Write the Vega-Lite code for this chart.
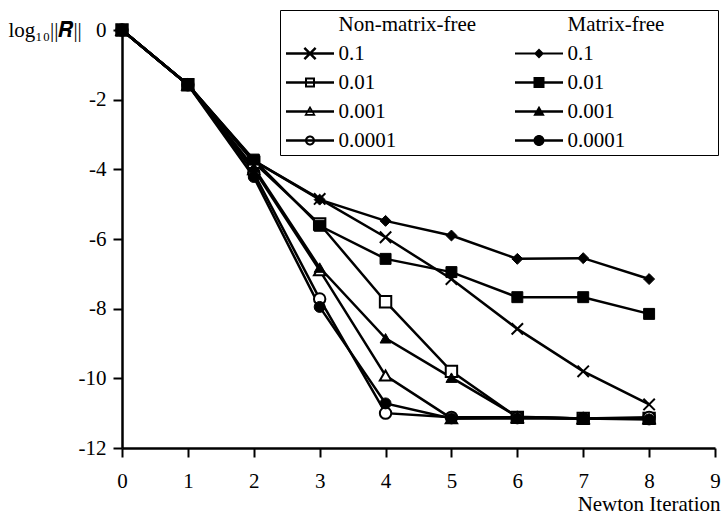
{
  "$schema": "https://vega.github.io/schema/vega-lite/v6.json",
  "width": 593,
  "height": 418,
  "autosize": {"type": "none"},
  "padding": {"left": 122, "top": 30, "right": 8, "bottom": 67},
  "background": "white",
  "config": {
    "font": "Liberation Serif",
    "view": {"stroke": null},
    "axis": {
      "domainColor": "black", "domainWidth": 2.5, "tickColor": "black", "tickWidth": 2,
      "labelColor": "black", "labelFontSize": 21, "labelFont": "Liberation Serif",
      "titleColor": "black", "titleFontSize": 21, "titleFont": "Liberation Serif", "titleFontWeight": "normal",
      "grid": false
    }
  },
  "resolve": {"scale": {"shape": "independent"}},
  "data": {"values": [
    {"key": "N|0.1", "it": 0, "v": 0}, {"key": "N|0.1", "it": 1, "v": -1.57}, {"key": "N|0.1", "it": 2, "v": -3.75}, {"key": "N|0.1", "it": 3, "v": -4.85}, {"key": "N|0.1", "it": 4, "v": -5.95}, {"key": "N|0.1", "it": 5, "v": -7.15}, {"key": "N|0.1", "it": 6, "v": -8.58}, {"key": "N|0.1", "it": 7, "v": -9.8}, {"key": "N|0.1", "it": 8, "v": -10.75},
    {"key": "N|0.01", "it": 0, "v": 0}, {"key": "N|0.01", "it": 1, "v": -1.57}, {"key": "N|0.01", "it": 2, "v": -3.8}, {"key": "N|0.01", "it": 3, "v": -5.57}, {"key": "N|0.01", "it": 4, "v": -7.8}, {"key": "N|0.01", "it": 5, "v": -9.8}, {"key": "N|0.01", "it": 6, "v": -11.12}, {"key": "N|0.01", "it": 7, "v": -11.15}, {"key": "N|0.01", "it": 8, "v": -11.15},
    {"key": "N|0.001", "it": 0, "v": 0}, {"key": "N|0.001", "it": 1, "v": -1.57}, {"key": "N|0.001", "it": 2, "v": -4.0}, {"key": "N|0.001", "it": 3, "v": -6.9}, {"key": "N|0.001", "it": 4, "v": -9.92}, {"key": "N|0.001", "it": 5, "v": -11.15}, {"key": "N|0.001", "it": 6, "v": -11.12}, {"key": "N|0.001", "it": 7, "v": -11.15}, {"key": "N|0.001", "it": 8, "v": -11.15},
    {"key": "N|0.0001", "it": 0, "v": 0}, {"key": "N|0.0001", "it": 1, "v": -1.57}, {"key": "N|0.0001", "it": 2, "v": -4.1}, {"key": "N|0.0001", "it": 3, "v": -7.72}, {"key": "N|0.0001", "it": 4, "v": -11.0}, {"key": "N|0.0001", "it": 5, "v": -11.12}, {"key": "N|0.0001", "it": 6, "v": -11.12}, {"key": "N|0.0001", "it": 7, "v": -11.15}, {"key": "N|0.0001", "it": 8, "v": -11.12},
    {"key": "M|0.1", "it": 0, "v": 0}, {"key": "M|0.1", "it": 1, "v": -1.57}, {"key": "M|0.1", "it": 2, "v": -3.75}, {"key": "M|0.1", "it": 3, "v": -4.87}, {"key": "M|0.1", "it": 4, "v": -5.48}, {"key": "M|0.1", "it": 5, "v": -5.9}, {"key": "M|0.1", "it": 6, "v": -6.57}, {"key": "M|0.1", "it": 7, "v": -6.55}, {"key": "M|0.1", "it": 8, "v": -7.15},
    {"key": "M|0.01", "it": 0, "v": 0}, {"key": "M|0.01", "it": 1, "v": -1.57}, {"key": "M|0.01", "it": 2, "v": -3.72}, {"key": "M|0.01", "it": 3, "v": -5.62}, {"key": "M|0.01", "it": 4, "v": -6.57}, {"key": "M|0.01", "it": 5, "v": -6.95}, {"key": "M|0.01", "it": 6, "v": -7.67}, {"key": "M|0.01", "it": 7, "v": -7.67}, {"key": "M|0.01", "it": 8, "v": -8.15},
    {"key": "M|0.001", "it": 0, "v": 0}, {"key": "M|0.001", "it": 1, "v": -1.57}, {"key": "M|0.001", "it": 2, "v": -3.95}, {"key": "M|0.001", "it": 3, "v": -6.82}, {"key": "M|0.001", "it": 4, "v": -8.85}, {"key": "M|0.001", "it": 5, "v": -9.98}, {"key": "M|0.001", "it": 6, "v": -11.1}, {"key": "M|0.001", "it": 7, "v": -11.15}, {"key": "M|0.001", "it": 8, "v": -11.15},
    {"key": "M|0.0001", "it": 0, "v": 0}, {"key": "M|0.0001", "it": 1, "v": -1.57}, {"key": "M|0.0001", "it": 2, "v": -4.22}, {"key": "M|0.0001", "it": 3, "v": -7.95}, {"key": "M|0.0001", "it": 4, "v": -10.72}, {"key": "M|0.0001", "it": 5, "v": -11.15}, {"key": "M|0.0001", "it": 6, "v": -11.15}, {"key": "M|0.0001", "it": 7, "v": -11.15}, {"key": "M|0.0001", "it": 8, "v": -11.18}
  ]},
  "encoding": {
    "x": {
      "field": "it", "type": "quantitative",
      "scale": {"domain": [0, 9], "nice": false, "zero": false},
      "axis": {
        "values": [0, 1, 2, 3, 4, 5, 6, 7, 8, 9], "labelFlush": false, "labelPadding": 13, "tickSize": 9,
        "labelFont": "Liberation Serif", "labelFontSize": 21, "titleFont": "Liberation Serif",
        "title": "Newton Iteration", "titleAnchor": null, "titleAlign": "right", "titleX": 598, "titleY": 62, "titleBaseline": "alphabetic"
      }
    },
    "y": {
      "field": "v", "type": "quantitative",
      "scale": {"domain": [-12, 0], "nice": false, "zero": false},
      "axis": {
        "values": [0, -2, -4, -6, -8, -10, -12], "labelPadding": 7, "tickSize": 9,
        "labelFont": "Liberation Serif", "labelFontSize": 21, "titleFont": "Liberation Serif, DejaVu Serif",
        "labelExpr": "'' + datum.value",
        "title": "log₁₀||𝑹||", "titleAngle": 0, "titleAlign": "left", "titleAnchor": null, "titleX": -114, "titleY": 0, "titleBaseline": "middle"
      }
    }
  },
  "layer": [
    {
      "mark": {"type": "line", "stroke": "black", "strokeWidth": 2.5},
      "encoding": {"detail": {"field": "key", "type": "nominal"}}
    },
    {
      "transform": [{"filter": "substring(datum.key,0,1)=='N'"}],
      "mark": {"type": "point", "filled": true, "fill": "white", "stroke": "black", "strokeWidth": 2, "opacity": 1, "size": 130},
      "encoding": {
        "shape": {
          "field": "key", "type": "nominal", "legend": null,
          "scale": {
            "domain": ["N|0.1", "N|0.01", "N|0.001", "N|0.0001"],
            "range": ["M-1,-1L1,1M-1,1L1,-1", "square", "triangle-up", "circle"]
          }
        }
      }
    },
    {
      "transform": [{"filter": "substring(datum.key,0,1)=='M'"}],
      "mark": {"type": "point", "filled": true, "fill": "black", "stroke": "black", "strokeWidth": 1, "opacity": 1, "size": 120},
      "encoding": {
        "shape": {
          "field": "key", "type": "nominal", "legend": null,
          "scale": {
            "domain": ["M|0.1", "M|0.01", "M|0.001", "M|0.0001"],
            "range": ["diamond", "square", "triangle-up", "circle"]
          }
        }
      }
    },
    {
      "transform": [{"filter": "false"}],
      "mark": {"type": "point", "filled": true, "fill": "black", "strokeWidth": 0, "opacity": 1, "size": 100},
      "encoding": {
        "shape": {
          "field": "key", "type": "nominal",
          "scale": {
            "domain": ["H|Non-matrix-free", "N|0.1", "N|0.01", "N|0.001", "N|0.0001", "H|Matrix-free", "M|0.1", "M|0.01", "M|0.001", "M|0.0001"],
            "range": [
              "M0,0",
              "M-4.8,-0.25H4.8V0.25H-4.8Z M-1.3,-0.95L-0.95,-1.3L1.3,0.95L0.95,1.3Z M-1.3,0.95L0.95,-1.3L1.3,-0.95L-0.95,1.3Z",
              "M-4.8,-0.25H4.8V0.25H-4.8Z M-1,-1H1V1H-1Z M-0.6,-0.6V0.6H0.6V-0.6Z",
              "M-4.8,-0.25H4.8V0.25H-4.8Z M0,-1.15L1.15,0.85H-1.15Z M0,-0.45L-0.6,0.5H0.6Z",
              "M-4.8,-0.25H4.8V0.25H-4.8Z M1,0A1,1,0,1,1,-1,0A1,1,0,1,1,1,0Z M0.6,0A0.6,0.6,0,1,0,-0.6,0A0.6,0.6,0,1,0,0.6,0Z",
              "M0,0M35,0",
              "M-4.8,-0.18H4.8V0.18H-4.8Z M0,-1L1,0L0,1L-1,0Z",
              "M-4.8,-0.25H4.8V0.25H-4.8Z M-1.1,-1.1H1.1V1.1H-1.1Z",
              "M-4.8,-0.25H4.8V0.25H-4.8Z M0,-1.15L1.15,0.85H-1.15Z",
              "M-4.8,-0.25H4.8V0.25H-4.8Z M1.1,0A1.1,1.1,0,1,1,-1.1,0A1.1,1.1,0,1,1,1.1,0Z"
            ]
          },
          "legend": {
            "orient": "none", "legendX": 158, "legendY": -20, "columns": 2, "gridAlign": "each",
            "title": null, "strokeColor": "black", "fillColor": "white", "padding": 4,
            "rowPadding": 7, "columnPadding": 36, "symbolSize": 100, "symbolStrokeWidth": 0,
            "symbolFillColor": "black", "symbolOpacity": 1,
            "symbolOffset": 15.5, "labelOffset": 18, "labelFontSize": 21, "labelFont": "Liberation Serif",
            "labelColor": "black", "labelLimit": 400,
            "labelExpr": "substring(datum.value,2)"
          }
        }
      }
    }
  ]
}
